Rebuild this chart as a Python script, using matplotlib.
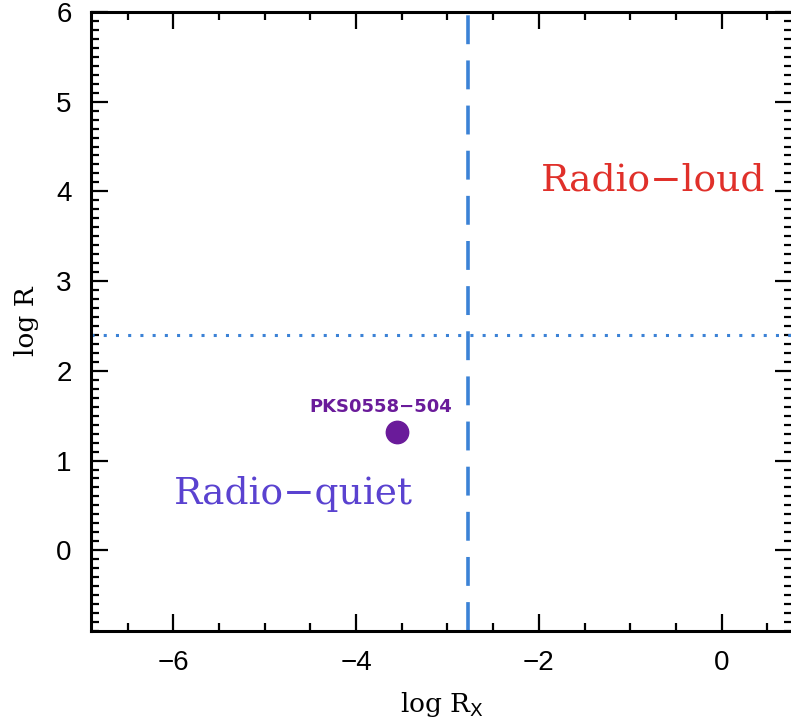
import matplotlib.pyplot as plt
from matplotlib.ticker import MultipleLocator

# data
src_name = "PKS0558\u2212504"
src_logrx = [-3.55]
src_logr = [1.32]
rx_cut = -2.77
r_cut = 2.4

fig = plt.figure(figsize=(7.91, 7.19), dpi=100)
ax = fig.add_axes([0.115, 0.1224, 0.8863, 0.861])

ax.set_xlim(-6.9, 0.77)
ax.set_ylim(-0.9, 6.0)

ax.axvline(rx_cut, color='#3b82d6', lw=2.6, dashes=(8, 4.5))
ax.axhline(r_cut, color='#3b82d6', lw=2.2, dashes=(1, 3))

ax.scatter(src_logrx, src_logr, s=260, color='#6a1b9a', zorder=3)
ax.text(src_logrx[0] - 0.18, src_logr[0] + 0.18, src_name, color='#6a1b9a',
        fontsize=13, fontweight='bold', family='DejaVu Sans', ha='center', va='bottom')

ax.text(-0.75, 4.12, 'Radio\u2212loud', color='#e0302a', fontsize=27,
        family='DejaVu Serif', ha='center', va='center')
ax.text(-4.69, 0.63, 'Radio\u2212quiet', color='#5a42d0', fontsize=27,
        family='DejaVu Serif', ha='center', va='center')

ax.set_xlabel(r'log R$_{\rm X}$', fontsize=19, family='DejaVu Serif', labelpad=10)
ax.set_ylabel('log R', fontsize=19, family='DejaVu Serif', labelpad=12)

ax.xaxis.set_major_locator(MultipleLocator(2))
ax.xaxis.set_minor_locator(MultipleLocator(0.5))
ax.yaxis.set_major_locator(MultipleLocator(1))
ax.yaxis.set_minor_locator(MultipleLocator(0.1))
ax.tick_params(which='both', direction='in', top=True, right=True, width=1.6,
               labelsize=20, pad=14)
ax.tick_params(which='major', length=12)
ax.tick_params(which='minor', length=6)
for lab in ax.get_xticklabels() + ax.get_yticklabels():
    lab.set_family('Liberation Sans')
for s in ax.spines.values():
    s.set_linewidth(2.2)

fig.savefig('out.png', dpi=100)
